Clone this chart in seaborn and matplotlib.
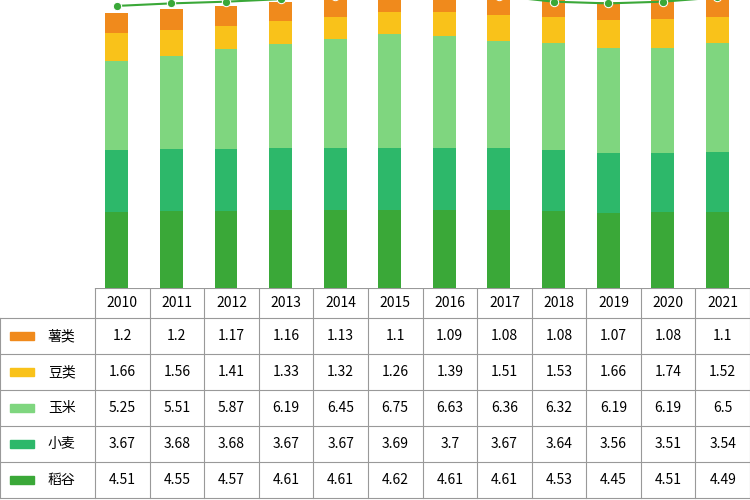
import matplotlib
matplotlib.use("Agg")
import matplotlib.pyplot as plt
import seaborn as sns
import pandas as pd
import numpy as np

years = ["2010","2011","2012","2013","2014","2015","2016","2017","2018","2019","2020","2021"]
shu = [1.2,1.2,1.17,1.16,1.13,1.1,1.09,1.08,1.08,1.07,1.08,1.1]
dou = [1.66,1.56,1.41,1.33,1.32,1.26,1.39,1.51,1.53,1.66,1.74,1.52]
yumi = [5.25,5.51,5.87,6.19,6.45,6.75,6.63,6.36,6.32,6.19,6.19,6.5]
xiaomai = [3.67,3.68,3.68,3.67,3.67,3.69,3.7,3.67,3.64,3.56,3.51,3.54]
daogu = [4.51,4.55,4.57,4.61,4.61,4.62,4.61,4.61,4.53,4.45,4.51,4.49]
line_vals = [16.7,16.85,16.95,17.1,17.3,17.45,17.5,17.3,16.95,16.85,16.95,17.2]

names = ["薯类","豆类","玉米","小麦","稻谷"]
series = [shu, dou, yumi, xiaomai, daogu]
colors = ["#f08a1c","#f9c21a","#7fd67f","#2db86a","#3aa838"]

plt.rcParams["font.family"] = ["Noto Sans CJK SC", "DejaVu Sans"]
fig = plt.figure(figsize=(7.5,5), dpi=100)
W, H = 750, 500
ax = fig.add_axes([95/W, 212/H, 655/W, 288/H])

stack_order = [4,3,2,1,0]
cum = np.zeros(len(years))
cums = {}
for i in stack_order:
    cum = cum + np.array(series[i])
    cums[i] = cum.copy()
for i in reversed(stack_order):
    df = pd.DataFrame({"year": years, "v": cums[i]})
    sns.barplot(data=df, x="year", y="v", color=colors[i], width=0.42,
                saturation=1, ax=ax, edgecolor="none")
sns.lineplot(x=np.arange(len(years)), y=line_vals, ax=ax, color="#3aa838",
             marker="o", markersize=6, linewidth=1.5, clip_on=True)
ax.set_xlim(-0.4, 11.6)
ax.set_ylim(0, 17.05)
ax.axis("off")

tx = fig.add_axes([0, 0, 1, 212/H])
tx.set_xlim(0, W); tx.set_ylim(212, 0)
tx.axis("off")
row_edges = [0, 30, 66, 102, 138, 174, 210]
col_w = 655/12
lc = "#999999"
for y in row_edges:
    tx.plot([0 if y > 0 else 95, W], [y, y], color=lc, lw=0.8)
tx.plot([0, 0], [30, 210], color=lc, lw=0.8)
for j in range(13):
    x = 95 + j*col_w
    tx.plot([x, x], [0, 210], color=lc, lw=0.8)
for j, yr in enumerate(years):
    tx.text(95 + (j+0.5)*col_w, 15, yr, ha="center", va="center", fontsize=10)
for r, (nm, s) in enumerate(zip(names, series)):
    yc = (row_edges[r+1] + row_edges[r+2]) / 2
    tx.add_patch(plt.Rectangle((10, yc-4), 24, 8, color=colors[r]))
    tx.text(48, yc, nm, ha="left", va="center", fontsize=10)
    for j, v in enumerate(s):
        tx.text(95 + (j+0.5)*col_w, yc, f"{v:g}", ha="center", va="center", fontsize=10)

fig.savefig("out.png", dpi=100)
